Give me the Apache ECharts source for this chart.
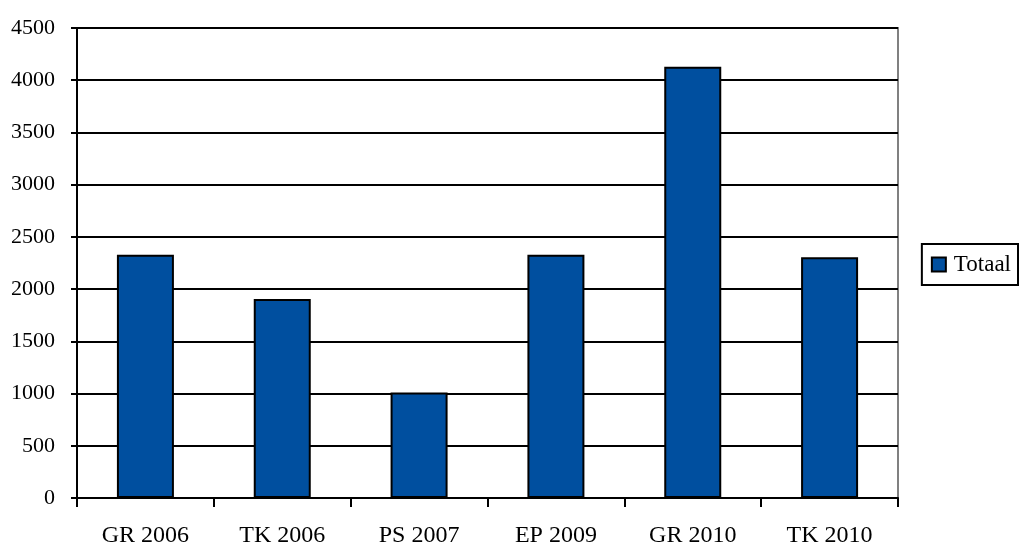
<!DOCTYPE html>
<html><head><meta charset="utf-8">
<script src="https://cdn.jsdelivr.net/npm/echarts@6/dist/echarts.min.js"></script>
<style>html,body{margin:0;padding:0;background:#fff}#c{width:1020px;height:548px}</style>
</head><body><div id="c"></div>
<script>
const categories = ['GR 2006','TK 2006','PS 2007','EP 2009','GR 2010','TK 2010'];
const totaal = [2330, 1905, 1010, 2330, 4130, 2305];
const seriesName = 'Totaal';
const font = 'Liberation Serif';
const chart = echarts.init(document.getElementById('c'));
chart.setOption({
  animation: false,
  backgroundColor: '#fff',
  grid: {left: 77, right: 122, top: 28, bottom: 47, show: true, borderColor: '#808080', borderWidth: 2},
  legend: {
    right: 2, top: 244, orient: 'vertical',
    data: [seriesName],
    borderColor: '#000', borderWidth: 2, padding: [9, 7, 9, 9],
    itemWidth: 14, itemHeight: 14, itemGap: 0,
    icon: 'rect',
    textStyle: {fontFamily: font, fontSize: 23, color: '#000', padding: [0, 0, 0, 3]}
  },
  xAxis: {
    type: 'category', data: categories,
    axisLine: {lineStyle: {color: '#000', width: 2}},
    axisTick: {show: true, length: 9, lineStyle: {color: '#000', width: 2}},
    axisLabel: {fontFamily: font, fontSize: 24, color: '#000', margin: 26}
  },
  yAxis: {
    type: 'value', min: 0, max: 4500, interval: 500,
    axisLine: {show: true, lineStyle: {color: '#000', width: 2}},
    axisTick: {show: true, length: 6, lineStyle: {color: '#000', width: 2}},
    axisLabel: {fontFamily: font, fontSize: 22, color: '#000', margin: 22, formatter: v => String(v)},
    splitLine: {show: true, lineStyle: {color: '#000', width: 2}}
  },
  series: [{
    name: seriesName, type: 'bar', data: totaal,
    barWidth: 57,
    itemStyle: {color: '#004F9F', borderColor: '#000', borderWidth: 2}
  }]
});
</script></body></html>
